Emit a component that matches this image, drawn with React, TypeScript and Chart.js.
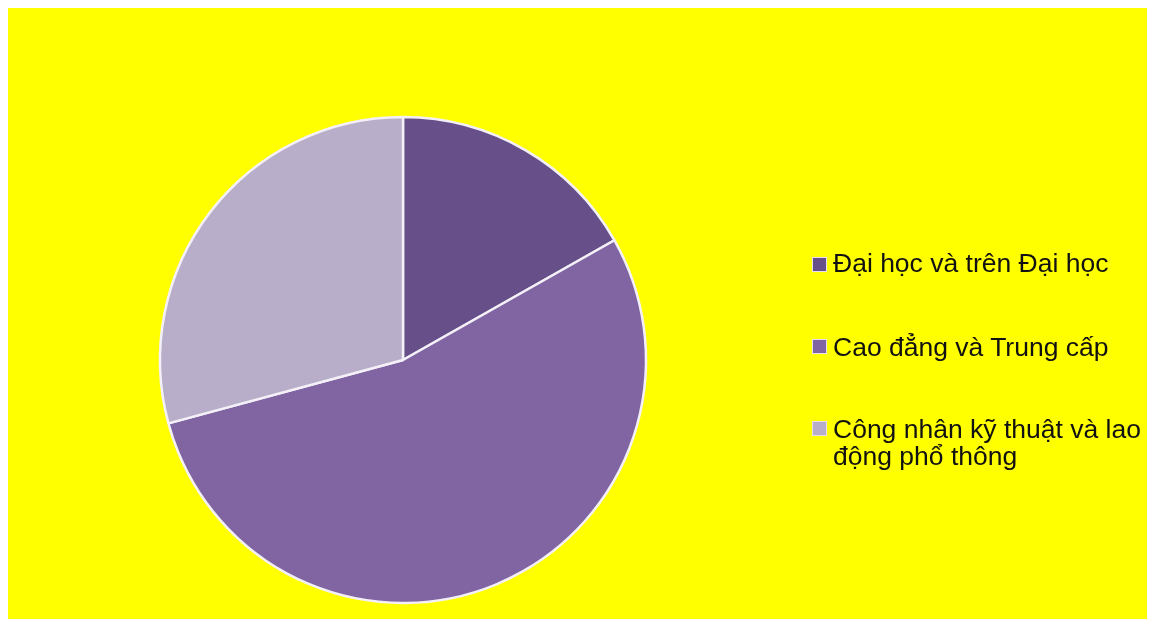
import React, { useEffect, useRef } from "react";
import { Chart, registerables } from "chart.js";

Chart.register(...registerables);

const categories: string[][] = [
  ["Đại học và trên Đại học"],
  ["Cao đẳng và Trung cấp"],
  ["Công nhân kỹ thuật và lao", "động phổ thông"],
];
const values: number[] = [16.8, 54.0, 29.2];
const colors: string[] = ["#67508A", "#8065A2", "#B8AEC9"];

const W = 1139;
const H = 611;

export default function App() {
  const ref = useRef<HTMLCanvasElement | null>(null);
  useEffect(() => {
    if (!ref.current) return;
    const chart = new Chart(ref.current, {
      type: "pie",
      data: {
        labels: categories.map((c) => c.join(" ")),
        datasets: [
          {
            data: values,
            backgroundColor: colors,
            borderColor: "#F4F0F8",
            borderWidth: 2.5,
          },
        ],
      },
      options: {
        responsive: false,
        animation: false,
        radius: 243,
        layout: { padding: { left: 145, right: W - 645, top: 102, bottom: H - 602 } },
        plugins: {
          legend: { display: false },
          tooltip: { enabled: false },
        },
      },
    });
    return () => chart.destroy();
  }, []);

  const legendTops = [242, 326, 408];
  const squareOffsets = [7, 5, 5];
  return (
    <div
      style={{
        position: "relative",
        width: W,
        height: H,
        background: "#FFFF00",
        fontFamily: '"Liberation Sans", Arial, sans-serif',
      }}
    >
      <canvas ref={ref} width={W} height={H} style={{ position: "absolute", left: 0, top: 0, width: W, height: H }} />
      {categories.map((lines, i) => (
        <div key={i} style={{ position: "absolute", left: 804, top: legendTops[i], width: 340 }}>
          <div
            style={{
              position: "absolute",
              left: 0,
              top: squareOffsets[i],
              width: 13,
              height: 13,
              background: colors[i],
              border: "1px solid #E6E0EE",
            }}
          />
          <div style={{ position: "absolute", left: 21, top: 0, fontSize: 26.5, lineHeight: "27px", color: "#111", whiteSpace: "nowrap" }}>
            {lines.map((l, j) => (
              <div key={j}>{l}</div>
            ))}
          </div>
        </div>
      ))}
    </div>
  );
}
